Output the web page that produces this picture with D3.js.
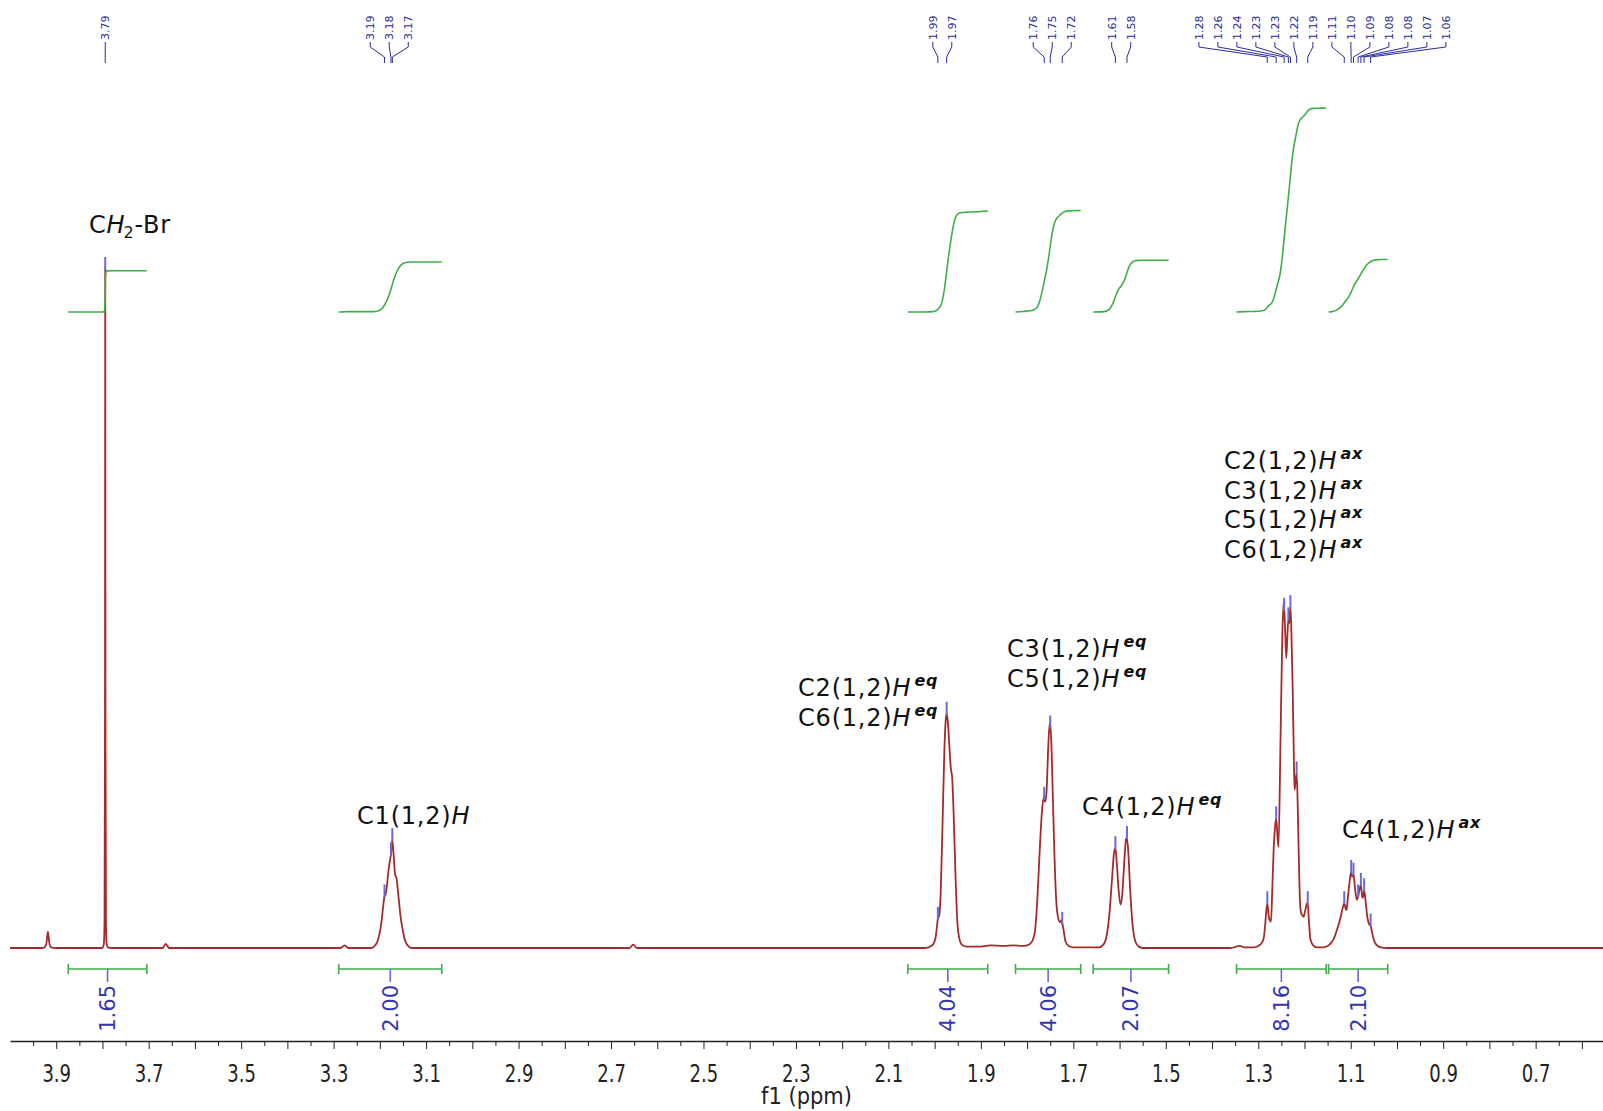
<!DOCTYPE html>
<html>
<head>
<meta charset="utf-8">
<script src="https://cdn.jsdelivr.net/npm/d3@7"></script>
<style>
body { margin: 0; background: #fff; }
svg { display: block; font-family: "DejaVu Sans", Verdana, sans-serif; }
</style>
</head>
<body>
<div id="container"></div>
<script>
// 1H NMR spectrum, f1 axis in ppm

// spectrum trace as [ppm, intensity], tallest peak (3.79) = 100
var spectrum = [
  [4.00,0],[3.93,0],[3.925,0.1],[3.921,0.8],[3.918,2.4],[3.915,0.8],[3.911,0.1],[3.90,0],
  [3.80,0],[3.797,0.6],[3.7955,4],[3.7945,35],[3.794,100],[3.7935,35],[3.7925,4],[3.791,0.6],[3.788,0.1],[3.78,0],
  [3.67,0],[3.663,0.6],[3.656,0],
  [3.285,0],[3.276,0.4],[3.268,0],
  [3.218,0],[3.210,0.4],[3.205,1.0],[3.201,2.0],[3.197,3.6],[3.193,6],[3.190,7.6],[3.188,7.8],[3.185,9],[3.182,11],
  [3.178,13],[3.176,13.8],[3.173,15.9],[3.170,13.5],[3.167,10.8],[3.164,10.3],[3.160,7.8],[3.155,4.5],[3.150,2.5],
  [3.146,1.2],[3.140,0.4],[3.132,0],
  [2.66,0],[2.652,0.5],[2.644,0],
  [2.02,0],[2.005,0.4],[1.998,1.5],[1.995,3.2],[1.993,4.3],[1.990,4.8],[1.987,8],[1.983,18],[1.979,29],[1.976,33.5],
  [1.974,34.5],[1.971,33],[1.968,29.5],[1.965,26.5],[1.962,25],[1.959,20],[1.955,11],[1.951,4],[1.946,1.2],[1.94,0.4],[1.93,0.2],
  [1.90,0.2],[1.88,0.4],[1.85,0.3],[1.83,0.4],[1.81,0.3],
  [1.80,0.4],[1.79,0.9],[1.783,2.5],[1.778,7],[1.773,14],[1.768,20],[1.764,22.2],[1.761,21.5],[1.758,23],[1.754,30],
  [1.751,33.2],[1.748,31],[1.745,24],[1.741,14],[1.737,7],[1.733,4.5],[1.729,3.8],[1.726,4.1],[1.722,3],[1.717,1],[1.71,0.3],[1.70,0.1],
  [1.645,0.1],[1.635,0.5],[1.628,1.8],[1.622,5],[1.616,10.5],[1.612,14],[1.609,14.7],[1.606,12.5],[1.602,8.5],[1.598,6.4],
  [1.594,8],[1.590,12.5],[1.586,16],[1.584,16.2],[1.581,14],[1.577,8.5],[1.572,3.5],[1.566,1],[1.56,0.3],[1.55,0],
  [1.36,0],[1.34,0.3],[1.33,0.1],[1.31,0.1],[1.30,0.3],[1.292,0.8],[1.288,1.5],[1.285,3.5],[1.2805,6.6],[1.277,4.5],
  [1.2725,3.9],[1.2695,9],[1.2665,14.9],[1.2635,18],[1.2613,19.1],[1.2585,16.5],[1.2563,14.9],[1.252,30],[1.248,46],
  [1.245,51],[1.2425,48],[1.2395,42.7],[1.2370,46],[1.2349,48.4],[1.2330,47.8],[1.2305,50.2],[1.2285,47],[1.2255,38],
  [1.2225,26],[1.2214,23.3],[1.2195,24.5],[1.2170,25.7],[1.2150,22],[1.2125,14],[1.2095,6.5],[1.2075,5.2],[1.2045,4.8],
  [1.2020,4.6],[1.1985,5.5],[1.1950,6.5],[1.1930,6.6],[1.1905,4],[1.1870,1.2],[1.180,0.3],[1.172,0.1],
  [1.160,0.1],[1.150,0.3],[1.142,0.8],[1.137,1.3],[1.130,2.6],[1.122,4.5],[1.117,6],[1.114,6.6],[1.111,5.8],[1.109,5.6],
  [1.106,7.5],[1.102,10],[1.099,11.2],[1.097,10.5],[1.094,10.8],[1.091,9],[1.087,7.1],[1.084,7.6],[1.081,8.6],[1.078,9.3],
  [1.075,7.4],[1.073,7.6],[1.071,8.5],[1.068,7],[1.064,4.5],[1.060,3.5],[1.057,3.3],[1.054,2.3],[1.050,1.2],[1.045,0.5],
  [1.035,0.1],[1.02,0],
  [0.55,0]
];

// peak picks
var pickPpm = [3.794, 3.190, 3.176, 3.173, 1.993, 1.974, 1.763, 1.750, 1.724, 1.609, 1.584,
  1.2805, 1.2613, 1.244, 1.2349, 1.2305, 1.217, 1.193, 1.114, 1.099, 1.094, 1.084, 1.078, 1.071, 1.057];
var pickLabels = ["3.79", "3.19", "3.18", "3.17", "1.99", "1.97", "1.76", "1.75", "1.72", "1.61", "1.58",
  "1.28", "1.26", "1.24", "1.23", "1.23", "1.22", "1.19", "1.11", "1.10", "1.09", "1.08", "1.08", "1.07", "1.06"];

// integrals
var integralFrom = [3.874, 3.289, 2.058, 1.825, 1.657, 1.347, 1.148];
var integralTo = [3.704, 3.066, 1.885, 1.684, 1.494, 1.153, 1.020];
var integralValues = [1.65, 2.00, 4.04, 4.06, 2.07, 8.16, 2.10];

// axis tick labels
var tickLabels = ["3.9", "3.7", "3.5", "3.3", "3.1", "2.9", "2.7", "2.5", "2.3", "2.1", "1.9", "1.7", "1.5", "1.3", "1.1", "0.9", "0.7"];

// assignments: lines of text, superscript on the H
var annotationLines = [
  ["CH2-Br"],
  ["C1(1,2)"],
  ["C2(1,2)", "C6(1,2)"],
  ["C3(1,2)", "C5(1,2)"],
  ["C4(1,2)"],
  ["C2(1,2)", "C3(1,2)", "C5(1,2)", "C6(1,2)"],
  ["C4(1,2)"]
];
var annotationSup = ["", "", "eq", "eq", "eq", "ax", "ax"];

var width = 1603, height = 1111;

var svg = d3.select("#container").append("svg")
  .attr("width", width)
  .attr("height", height);

// scales
var x = d3.scaleLinear().domain([4.0, 0.55]).range([10, 1605]);
var y = d3.scaleLinear().domain([0, 100]).range([948, 269]);
var yInt = d3.scaleLinear().domain([0, 1]).range([312, 287]); // 25 px per proton

// interpolate trace value at a ppm
var sorted = spectrum.slice().sort(function(a, b) { return a[0] - b[0]; });
var bis = d3.bisector(function(d) { return d[0]; }).left;
function valueAt(p) {
  var i = bis(sorted, p);
  if (i <= 0) return sorted[0][1];
  if (i >= sorted.length) return sorted[sorted.length - 1][1];
  var a = sorted[i - 1], b = sorted[i];
  var t = (p - a[0]) / (b[0] - a[0]);
  return a[1] + t * (b[1] - a[1]);
}

// spectrum line
var line = d3.line()
  .x(function(d) { return x(d[0]); })
  .y(function(d) { return y(d[1]); })
  .curve(d3.curveMonotoneX);

svg.append("path")
  .datum(spectrum)
  .attr("fill", "none")
  .attr("stroke", "#a52a2a")
  .attr("stroke-width", 1.8)
  .attr("stroke-linejoin", "round")
  .attr("d", line);

// peak markers on the trace
svg.append("g").selectAll("line")
  .data(pickPpm)
  .enter().append("line")
  .attr("x1", function(d) { return x(d); })
  .attr("x2", function(d) { return x(d); })
  .attr("y1", function(d) { return y(valueAt(d)) - 12; })
  .attr("y2", function(d) { return y(valueAt(d)) + 1; })
  .attr("stroke", "#6a6ad8")
  .attr("stroke-width", 2);

// spread the top labels so they don't overlap
function spreadLabels(xs, gap) {
  var groups = xs.map(function(v) { return { members: [v], center: v }; });
  var merged = true;
  while (merged) {
    merged = false;
    for (var i = 0; i < groups.length - 1; i++) {
      var a = groups[i], b = groups[i + 1];
      var aRight = a.center + (a.members.length - 1) * gap / 2;
      var bLeft = b.center - (b.members.length - 1) * gap / 2;
      if (bLeft - aRight < gap) {
        var m = a.members.concat(b.members);
        groups.splice(i, 2, { members: m, center: d3.mean(m) });
        merged = true;
        break;
      }
    }
  }
  var out = [];
  groups.forEach(function(g) {
    g.members.forEach(function(v, k) {
      out.push(g.center + (k - (g.members.length - 1) / 2) * gap);
    });
  });
  return out;
}

var pickX = pickPpm.map(function(d) { return x(d); });
var order = d3.range(pickX.length).sort(function(a, b) { return pickX[a] - pickX[b]; });
var spread = spreadLabels(order.map(function(i) { return pickX[i]; }), 19);
var labelX = [];
order.forEach(function(i, k) { labelX[i] = spread[k]; });

var picks = svg.append("g");
picks.selectAll("path")
  .data(pickPpm)
  .enter().append("path")
  .attr("fill", "none")
  .attr("stroke", "#2b2b9e")
  .attr("stroke-width", 1)
  .attr("d", function(d, i) {
    return "M" + labelX[i] + ",42V47L" + x(d) + ",57V63";
  });

picks.selectAll("text")
  .data(pickLabels)
  .enter().append("text")
  .attr("transform", function(d, i) { return "translate(" + labelX[i] + ",40) rotate(-90)"; })
  .attr("dy", "0.35em")
  .attr("font-size", 11)
  .attr("fill", "#2b2b9e")
  .text(function(d) { return d; });

// integral curves: cumulative area of the trace inside each region
var intColor = "#3fae49";
integralValues.forEach(function(val, k) {
  var hi = integralFrom[k], lo = integralTo[k];
  var pts = [[hi, valueAt(hi)]];
  spectrum.forEach(function(d) { if (d[0] < hi && d[0] > lo) pts.push(d); });
  pts.push([lo, valueAt(lo)]);
  var cum = [0];
  for (var i = 1; i < pts.length; i++) {
    cum.push(cum[i - 1] + (pts[i - 1][0] - pts[i][0]) * (pts[i - 1][1] + pts[i][1]) / 2);
  }
  var total = cum[cum.length - 1];
  var curve = pts.map(function(d, i) { return [d[0], cum[i] / total * val]; });

  svg.append("path")
    .datum(curve)
    .attr("fill", "none")
    .attr("stroke", intColor)
    .attr("stroke-width", 1.6)
    .attr("d", d3.line()
      .x(function(d) { return x(d[0]); })
      .y(function(d) { return yInt(d[1]); })
      .curve(d3.curveMonotoneX));

  // bracket under the trace
  var g = svg.append("g");
  var x0 = x(hi), x1 = x(lo), cx = (x0 + x1) / 2;
  g.append("path")
    .attr("fill", "none")
    .attr("stroke", intColor)
    .attr("stroke-width", 1.6)
    .attr("d", "M" + x0 + ",964V974M" + x0 + ",969H" + x1 + "M" + x1 + ",964V974");
  g.append("line")
    .attr("x1", cx).attr("x2", cx)
    .attr("y1", 969).attr("y2", 982)
    .attr("stroke", "#6a6ad8")
    .attr("stroke-width", 1.6);
  g.append("text")
    .attr("transform", "translate(" + cx + ",985) rotate(-90)")
    .attr("text-anchor", "end")
    .attr("dy", "0.36em")
    .attr("font-size", 21)
    .attr("fill", "#3434b4")
    .text(d3.format(".2f")(val));
});

// x axis
var majorTicks = tickLabels.map(Number);
var minorTicks = d3.range(12, 80).map(function(i) { return i * 0.05; }).filter(function(v) { return v <= 4.0; });

var axisY = 1041;
svg.append("g")
  .attr("transform", "translate(0," + axisY + ")")
  .call(d3.axisBottom(x).tickValues(minorTicks).tickSize(5).tickFormat("").tickSizeOuter(0))
  .call(function(g) {
    g.selectAll(".tick line")
      .attr("y2", function(d) { return Math.abs(d * 10 - Math.round(d * 10)) < 1e-6 ? 8 : 5; })
      .attr("stroke", "#222");
    g.select(".domain").attr("stroke", "#222").attr("stroke-width", 1.4);
  });

svg.append("g")
  .attr("transform", "translate(0," + axisY + ")")
  .call(d3.axisBottom(x).tickValues(majorTicks).tickSize(0).tickFormat(d3.format(".1f")))
  .call(function(g) {
    g.select(".domain").remove();
    g.selectAll("text")
      .attr("y", null).attr("dy", null)
      .attr("transform", "translate(0,41) scale(0.95,1.3)")
      .attr("font-family", "DejaVu Sans, sans-serif")
      .attr("font-size", 19)
      .attr("fill", "#222");
  });

svg.append("text")
  .attr("transform", "translate(" + ((x.range()[0] + width) / 2) + ",1104) scale(1.0,1.1)")
  .attr("text-anchor", "middle")
  .attr("font-size", 21)
  .attr("fill", "#222")
  .text("f1 (ppm)");

// assignment labels
var annotationPos = [[89, 233], [357, 824], [798, 696], [1007, 657], [1082, 815], [1224, 469], [1342, 838]];
var lineGap = 29.7;

annotationLines.forEach(function(lines, k) {
  lines.forEach(function(txt, j) {
    var t = svg.append("text")
      .attr("x", annotationPos[k][0])
      .attr("y", annotationPos[k][1] + j * lineGap)
      .attr("font-size", 24)
      .attr("letter-spacing", 0.8)
      .attr("fill", "#111");
    if (txt === "CH2-Br") {
      t.append("tspan").text("C");
      t.append("tspan").attr("font-style", "italic").text("H");
      t.append("tspan").attr("font-size", 16).attr("dy", 5).attr("dx", -2).text("2");
      t.append("tspan").attr("dy", -5).text("-Br");
    } else {
      t.append("tspan").text(txt);
      t.append("tspan").attr("font-style", "italic").text("H");
      if (annotationSup[k]) {
        t.append("tspan")
          .attr("font-size", 16)
          .attr("font-weight", "bold")
          .attr("font-style", "italic")
          .attr("dx", 3)
          .attr("dy", -10)
          .text(annotationSup[k]);
      }
    }
  });
});
</script>
</body>
</html>
